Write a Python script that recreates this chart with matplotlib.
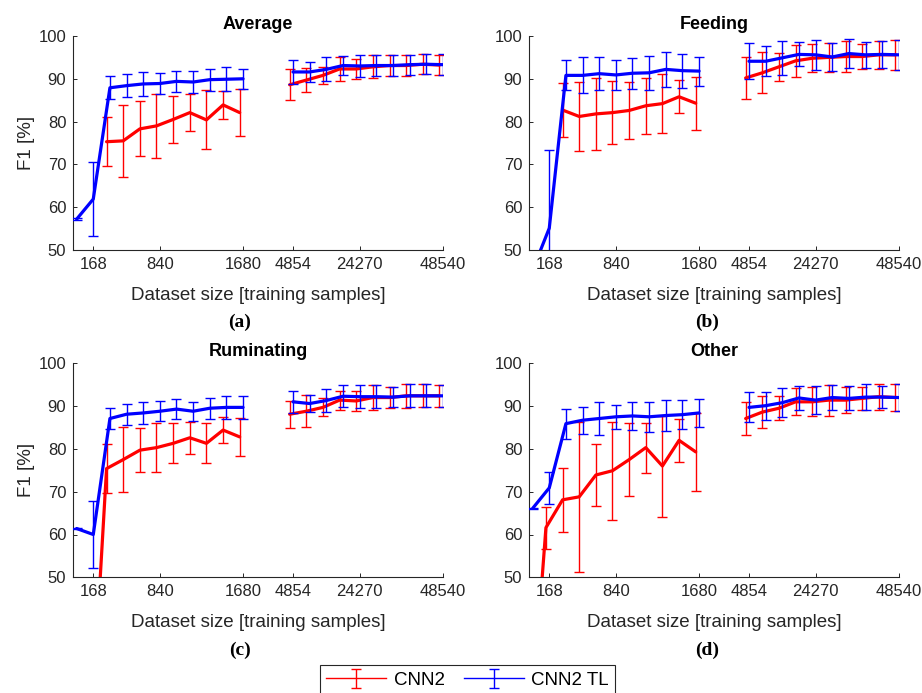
"""F1 score versus dataset size for CNN2 and CNN2 TL, four behaviour classes."""

import matplotlib

matplotlib.use("Agg")

import numpy as np
import matplotlib.pyplot as plt
from matplotlib.transforms import ScaledTranslation

nan = np.nan

SIZES = [0, 168, 336, 504, 672, 840, 1008, 1176, 1344, 1512, 1680,
         4854, 9708, 14562, 19416, 24270, 29124, 33978, 38832, 43686, 48540]
XTICKS = [168, 840, 1680, 4854, 24270, 48540]
PANELS = ["Average", "Feeding", "Ruminating", "Other"]
LETTERS = ["(a)", "(b)", "(c)", "(d)"]

avg_cnn2 = [nan, nan, 75.3, 75.5, 78.3, 79.0, 80.5, 82.1, 80.4, 83.9, 82.1,
            88.6, 89.7, 90.8, 92.3, 92.3, 92.8, 93.1, 93.1, 93.4, 93.2]
avg_cnn2_sd = [nan, nan, 5.7, 8.4, 6.4, 7.4, 5.5, 4.3, 6.9, 3.3, 5.5,
               3.6, 2.9, 2.0, 2.8, 2.4, 2.7, 2.4, 2.4, 2.3, 2.4]
avg_tl = [57.2, 61.9, 87.9, 88.4, 88.8, 88.9, 89.4, 89.25, 89.8, 89.9, 90.0,
          91.6, 91.6, 92.2, 93.1, 93.0, 93.1, 93.1, 93.3, 93.4, 93.3]
avg_tl_sd = [0.2, 8.6, 2.7, 2.7, 2.8, 2.35, 2.5, 2.5, 2.6, 2.8, 2.35,
             2.85, 2.3, 2.8, 2.3, 2.55, 2.4, 2.35, 2.35, 2.35, 2.5]

feed_cnn2 = [nan, nan, 82.7, 81.2, 81.8, 82.1, 82.6, 83.7, 84.2, 85.8, 84.3,
             90.2, 91.4, 92.8, 94.2, 94.8, 95.0, 95.2, 95.2, 95.6, 95.6]
feed_cnn2_sd = [nan, nan, 6.4, 8.0, 8.5, 7.3, 6.6, 6.5, 6.9, 3.9, 6.2,
                5.0, 4.8, 3.2, 3.7, 3.3, 3.4, 3.7, 3.0, 3.2, 3.5]
feed_tl = [45.3, 55.1, 90.8, 90.8, 91.2, 90.9, 91.3, 91.4, 92.2, 91.9, 91.8,
           94.1, 94.1, 94.9, 95.7, 95.6, 95.1, 95.9, 95.6, 95.7, 95.6]
feed_tl_sd = [1.0, 18.2, 3.5, 4.2, 3.8, 3.6, 3.6, 3.9, 4.0, 4.0, 3.4,
              4.2, 3.5, 4.0, 2.8, 3.5, 3.2, 3.3, 3.0, 3.1, 3.5]

rum_cnn2 = [nan, 8.5, 75.4, 77.5, 79.7, 80.3, 81.3, 82.6, 81.3, 84.4, 82.8,
            88.1, 88.8, 89.7, 91.4, 91.2, 92.0, 92.0, 92.4, 92.4, 92.4]
rum_cnn2_sd = [nan, 5.0, 5.7, 7.6, 5.2, 5.7, 4.7, 3.8, 4.7, 3.1, 4.5,
               3.15, 3.8, 2.1, 2.2, 2.4, 2.85, 2.4, 2.8, 2.7, 2.5]
rum_tl = [61.4, 60.0, 87.1, 88.1, 88.4, 88.8, 89.3, 88.8, 89.5, 89.7, 89.7,
          91.0, 90.6, 91.3, 92.3, 92.2, 92.2, 92.1, 92.4, 92.4, 92.4]
rum_tl_sd = [0.2, 7.8, 2.4, 2.5, 2.6, 2.3, 2.4, 2.2, 2.45, 2.65, 2.65,
             2.5, 1.9, 2.6, 2.6, 2.65, 2.7, 2.3, 2.7, 2.7, 2.55]

oth_cnn2 = [9.8, 61.6, 68.1, 68.8, 73.9, 74.9, 77.5, 80.3, 76.0, 82.0, 79.3,
            87.1, 88.6, 89.5, 91.0, 91.0, 91.4, 91.4, 91.8, 92.2, 92.0]
oth_cnn2_sd = [5.0, 4.9, 7.4, 17.6, 7.3, 11.45, 8.6, 5.85, 11.8, 4.95, 9.1,
               3.8, 3.8, 2.75, 3.15, 3.35, 3.6, 3.0, 2.65, 3.0, 3.25]
oth_tl = [66.1, 70.9, 85.9, 86.7, 87.1, 87.5, 87.7, 87.5, 87.8, 88.0, 88.4,
          89.7, 90.1, 90.8, 91.9, 91.4, 92.0, 91.8, 92.1, 92.1, 92.0]
oth_tl_sd = [0.2, 3.8, 3.5, 3.2, 3.75, 2.85, 3.25, 3.55, 3.6, 3.45, 3.3,
             3.5, 3.3, 3.4, 2.85, 3.25, 2.95, 2.8, 2.95, 2.6, 3.25]

CNN2 = [(avg_cnn2, avg_cnn2_sd), (feed_cnn2, feed_cnn2_sd), (rum_cnn2, rum_cnn2_sd), (oth_cnn2, oth_cnn2_sd)]
TL = [(avg_tl, avg_tl_sd), (feed_tl, feed_tl_sd), (rum_tl, rum_tl_sd), (oth_tl, oth_tl_sd)]

TXT = "#262626"
W, H = 922, 693
N_LEFT = 11  # points up to 1680 samples; the rest sit right of the axis break


# broken x axis: 168 samples per step on the left, 4854 per step on the right
def fwd(x):
    x = np.asarray(x, dtype=float)
    return np.where(x <= 1680, x / 168,
                    np.where(x >= 4854, 13 + (x - 4854) / 4854, 10 + 3 * (x - 1680) / 3174))


def inv(u):
    u = np.asarray(u, dtype=float)
    return np.where(u <= 10, u * 168,
                    np.where(u >= 13, 4854 + (u - 13) * 4854, 1680 + (u - 10) * 3174 / 3))


def draw_series(ax, mean, sd, color, z, transform):
    first = None
    for sl in (slice(0, N_LEFT), slice(N_LEFT, None)):
        eb = ax.errorbar(SIZES[sl], mean[sl], yerr=sd[sl], color=color, lw=1.0, elinewidth=1.0,
                         capsize=3.8, capthick=1.0, transform=transform, zorder=z)
        ax.plot(SIZES[sl], mean[sl], color=color, lw=2.3, transform=transform, zorder=z + 1,
                solid_joinstyle="round", solid_capstyle="round")
        if first is None:
            first = eb
    return first


plt.rcParams["font.family"] = ["Liberation Sans", "DejaVu Sans"]

fig = plt.figure(figsize=(W / 100, H / 100), dpi=100, facecolor="white")

boxes = [(73.3, 36), (529.3, 36), (73.3, 363.3), (529.3, 363.3)]
letter_pos = [(240, 322), (707, 322), (240, 650), (707, 650)]
aw, ah = 369.5, 214

handles = []
for k, name in enumerate(PANELS):
    x0, y0 = boxes[k]
    ax = fig.add_axes([x0 / W, 1 - (y0 + ah) / H, aw / W, ah / H])
    ax.set_xscale("function", functions=(fwd, inv))

    shift = ax.transData + ScaledTranslation(-3.35 / 100, 0, fig.dpi_scale_trans)
    e1 = draw_series(ax, *CNN2[k], "#FF0000", 2, shift)
    e2 = draw_series(ax, *TL[k], "#0000FF", 4, ax.transData)
    if k == 0:
        handles = [e1, e2]

    ax.set_xlim(-0.2 * 168, 48540)
    ax.set_ylim(50, 100)
    ax.set_xticks(XTICKS)
    ax.set_xticklabels([str(t) for t in XTICKS])
    ax.set_yticks([50, 60, 70, 80, 90, 100])
    ax.minorticks_off()
    ax.tick_params(direction="in", length=3.0, width=0.7, colors=TXT, labelsize=12, pad=5)
    for side in ("top", "right"):
        ax.spines[side].set_visible(False)
    for side in ("left", "bottom"):
        ax.spines[side].set_color(TXT)
        ax.spines[side].set_linewidth(0.8)

    ax.set_title(name, fontsize=13, fontweight="bold", color="black", pad=5)
    ax.set_xlabel("Dataset size [training samples]", fontsize=13.5, color=TXT)
    ax.xaxis.set_label_coords(0.5, -0.172)
    if k in (0, 2):
        ax.set_ylabel("F1 [%]", fontsize=13.5, color=TXT)
        ax.yaxis.set_label_coords(-0.105, 0.5)

    lx, ly = letter_pos[k]
    fig.text(lx / W, 1 - ly / H, LETTERS[k], ha="center", va="center",
             fontsize=14, fontweight="bold", family=["Liberation Serif", "DejaVu Serif"])

leg = fig.legend(handles, ["CNN2", "CNN2 TL"], loc="upper center",
                 bbox_to_anchor=(467.5 / W, 1 - 665 / H), ncol=2, fontsize=13.5,
                 frameon=True, fancybox=False, framealpha=1, edgecolor=TXT, borderaxespad=0,
                 handlelength=3.2, handletextpad=0.4, columnspacing=1.0, borderpad=0.35)
leg.get_frame().set_linewidth(0.8)

fig.savefig("out.png", dpi=100, facecolor="white")
